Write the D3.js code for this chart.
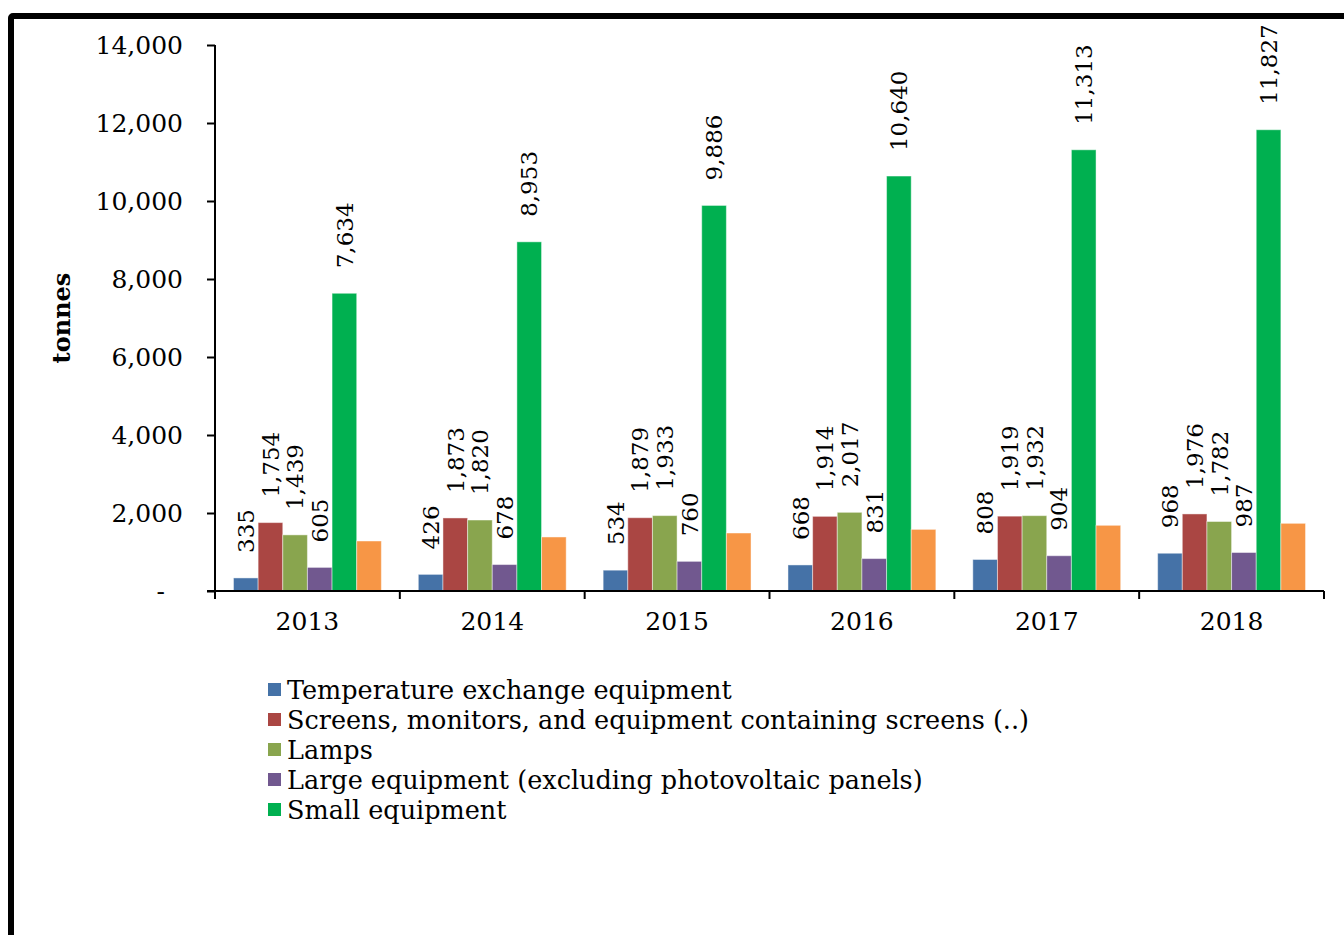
<!DOCTYPE html>
<html>
<head>
<meta charset="utf-8">
<script src="https://cdn.jsdelivr.net/npm/d3@7"></script>
<style>
  html, body { margin: 0; padding: 0; background: #fff; }
  svg { display: block; font-family: "DejaVu Serif", serif; }
</style>
</head>
<body>
<svg id="chart" width="1344" height="935"></svg>
<script>
// WEEE collected per category, tonnes
const years = ["2013", "2014", "2015", "2016", "2017", "2018"];
const seriesNames = [
  "Temperature exchange equipment",
  "Screens, monitors, and equipment containing screens (..)",
  "Lamps",
  "Large equipment (excluding photovoltaic panels)",
  "Small equipment",
  "Small IT and telecommunication equipment"
];
const temperatureExchange = [335, 426, 534, 668, 808, 968];
const screens = [1754, 1873, 1879, 1914, 1919, 1976];
const lamps = [1439, 1820, 1933, 2017, 1932, 1782];
const largeEquipment = [605, 678, 760, 831, 904, 987];
const smallEquipment = [7634, 8953, 9886, 10640, 11313, 11827];
const smallIT = [1282, 1385, 1487, 1580, 1684, 1735];
const yTicks = [0, 2000, 4000, 6000, 8000, 10000, 12000, 14000];

const seriesValues = [temperatureExchange, screens, lamps, largeEquipment, smallEquipment, smallIT];
const colors = ["#4572A7", "#AA4643", "#89A54E", "#71588F", "#00B050", "#F79646"];
const labelled = [true, true, true, true, true, false];
const inLegend = [true, true, true, true, true, false];

const svg = d3.select("#chart");

// frame
svg.append("rect")
  .attr("x", 11).attr("y", 16)
  .attr("width", 1500).attr("height", 1100)
  .attr("rx", 2)
  .attr("fill", "none").attr("stroke", "#000").attr("stroke-width", 6);

const plot = { left: 215, right: 1324, top: 45, bottom: 591 };

const x0 = d3.scaleBand().domain(years)
  .range([plot.left, plot.right]).paddingInner(0.2).paddingOuter(0.1);
const x1 = d3.scaleBand().domain(d3.range(seriesValues.length))
  .range([0, x0.bandwidth()]).padding(0);
const y = d3.scaleLinear().domain([0, 14000]).range([plot.bottom, plot.top]);

// bars
seriesValues.forEach((vals, s) => {
  svg.append("g").selectAll("rect")
    .data(vals)
    .join("rect")
    .attr("x", (d, i) => x0(years[i]) + x1(s))
    .attr("y", d => y(d))
    .attr("width", x1.bandwidth())
    .attr("height", d => y(0) - y(d))
    .attr("fill", colors[s])
    .attr("stroke", "#ffffff")
    .attr("stroke-opacity", 0.45)
    .attr("stroke-width", 1);
});

// value labels
const fmt = d3.format(",");
seriesValues.forEach((vals, s) => {
  if (!labelled[s]) return;
  svg.append("g").selectAll("text")
    .data(vals)
    .join("text")
    .attr("transform", (d, i) => {
      const cx = x0(years[i]) + x1(s) + x1.bandwidth() / 2;
      return `translate(${cx},${y(d) - 25}) rotate(-90)`;
    })
    .attr("dy", "0.36em")
    .attr("text-anchor", "start")
    .attr("font-size", 23)
    .attr("fill", "#000")
    .text(d => fmt(d));
});

// y axis
const yAxis = d3.axisLeft(y).tickValues(yTicks)
  .tickSize(8).tickPadding(24)
  .tickFormat(d => d === 0 ? "-" : fmt(d));
const gy = svg.append("g").attr("transform", `translate(${plot.left},0)`).call(yAxis);
gy.select(".domain").attr("stroke", "#000").attr("stroke-width", 2)
  .attr("d", `M0,${plot.top}V${plot.bottom}`);
gy.selectAll(".tick line").attr("stroke", "#000").attr("stroke-width", 2);
gy.selectAll(".tick text")
  .attr("font-family", "DejaVu Serif, serif")
  .attr("font-size", 25).attr("fill", "#000")
  .attr("dx", d => d === 0 ? -18 : 0);

// x axis: baseline with ticks at category boundaries
const boundaries = years.map(yr => x0(yr) - x0.step() * x0.paddingInner() / 2)
  .concat([plot.right]);
const gx = svg.append("g");
gx.append("line")
  .attr("x1", plot.left - 8).attr("x2", plot.right)
  .attr("y1", plot.bottom).attr("y2", plot.bottom)
  .attr("stroke", "#000").attr("stroke-width", 2);
gx.selectAll("line.tick").data(boundaries).join("line")
  .attr("class", "tick")
  .attr("x1", d => d).attr("x2", d => d)
  .attr("y1", plot.bottom).attr("y2", plot.bottom + 8)
  .attr("stroke", "#000").attr("stroke-width", 2);
gx.selectAll("text").data(years).join("text")
  .attr("x", d => x0(d) + x0.bandwidth() / 2)
  .attr("y", 630)
  .attr("text-anchor", "middle")
  .attr("font-size", 25)
  .attr("fill", "#000")
  .text(d => d);

// y axis title
svg.append("text")
  .attr("transform", `translate(70,318) rotate(-90)`)
  .attr("text-anchor", "middle")
  .attr("font-size", 24)
  .attr("font-weight", "bold")
  .attr("fill", "#000")
  .text("tonnes");

// legend
const legendItems = seriesNames.map((n, i) => ({ name: n, color: colors[i], show: inLegend[i] }))
  .filter(d => d.show);
const lg = svg.append("g").attr("transform", "translate(268,690)");
const rows = lg.selectAll("g").data(legendItems).join("g")
  .attr("transform", (d, i) => `translate(0,${i * 30})`);
rows.append("rect")
  .attr("x", 0).attr("y", -7).attr("width", 13).attr("height", 13)
  .attr("fill", d => d.color);
rows.append("text")
  .attr("x", 19).attr("y", 0).attr("dy", "0.35em")
  .attr("font-size", 25.5).attr("fill", "#000")
  .text(d => d.name);
</script>
</body>
</html>
